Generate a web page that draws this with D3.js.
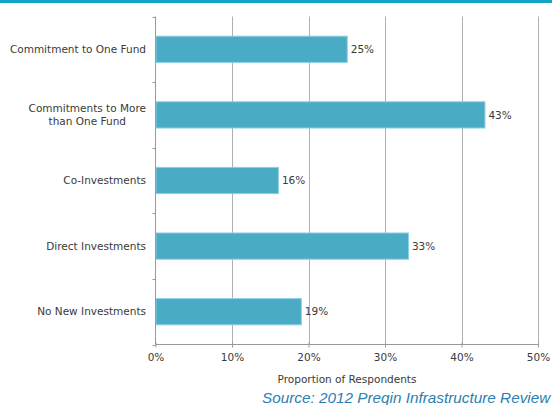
<!DOCTYPE html>
<html>
<head>
<meta charset="utf-8">
<script src="https://cdn.jsdelivr.net/npm/d3@7"></script>
<style>
  body { margin: 0; background: #fff; }
  text { font-family: "DejaVu Sans", sans-serif; }
  text.source { font-family: "Liberation Sans", Arial, sans-serif; font-style: italic; }
</style>
</head>
<body>
<script>
var categories = [
    ["Commitment to One Fund"],
    ["Commitments to More", "than One Fund"],
    ["Co-Investments"],
    ["Direct Investments"],
    ["No New Investments"]
];
var values = [25, 43, 16, 33, 19];
var tickValues = [0, 10, 20, 30, 40, 50];

var width = 552,
    height = 405;

var margin = { top: 16.5, right: 14, bottom: 60.5, left: 155.5 };
var fontSize = 10.5;
var textColor = "#3a3a3a";

var svg = d3.select("body").append("svg")
    .attr("width", width)
    .attr("height", height);

// top rule
svg.append("rect")
    .attr("x", 0).attr("y", 0)
    .attr("width", width).attr("height", 3)
    .attr("fill", "#14a3c4");

var x = d3.scaleLinear()
    .domain([0, 50])
    .range([margin.left, width - margin.right]);

var y = d3.scaleBand()
    .domain(d3.range(categories.length))
    .range([margin.top, height - margin.bottom])
    .paddingInner(0.6)
    .paddingOuter(0.3);

var plotBottom = height - margin.bottom;

// gridlines
svg.append("g").selectAll("line")
    .data(tickValues.slice(1))
    .enter().append("line")
    .attr("x1", function (d) { return Math.round(x(d)) + 0.5; })
    .attr("x2", function (d) { return Math.round(x(d)) + 0.5; })
    .attr("y1", margin.top)
    .attr("y2", plotBottom)
    .attr("stroke", "#b0b0b0")
    .attr("stroke-width", 1);

// bars
svg.append("g").selectAll("rect")
    .data(values)
    .enter().append("rect")
    .attr("x", x(0) + 0.5)
    .attr("y", function (d, i) { return y(i); })
    .attr("width", function (d) { return x(d) - x(0); })
    .attr("height", y.bandwidth())
    .attr("fill", "#4aabc5")
    .attr("stroke", "#8dd0e2")
    .attr("stroke-width", 1);

// value labels
svg.append("g").selectAll("text")
    .data(values)
    .enter().append("text")
    .attr("x", function (d) { return x(d) + 4; })
    .attr("y", function (d, i) { return y(i) + y.bandwidth() / 2; })
    .attr("dy", "0.35em")
    .attr("font-size", fontSize)
    .attr("fill", textColor)
    .text(function (d) { return d + "%"; });

// x axis
var xAxis = svg.append("g")
    .attr("transform", "translate(0," + plotBottom + ")")
    .call(d3.axisBottom(x)
        .tickValues(tickValues)
        .tickFormat(function (d) { return d + "%"; })
        .tickSize(4)
        .tickPadding(5));
xAxis.select(".domain").attr("stroke", "#999").attr("d", "M" + x(0) + ",0H" + x(50));
xAxis.selectAll(".tick line").attr("stroke", "#999").attr("y1", -2).attr("y2", 3);
xAxis.selectAll(".tick text")
    .attr("font-size", fontSize)
    .attr("fill", textColor);

// y axis line and separator ticks
var step = y.step();
var sepData = d3.range(categories.length + 1).map(function (i) {
    return margin.top + i * step;
});
var yAxisG = svg.append("g");
yAxisG.append("line")
    .attr("x1", x(0)).attr("x2", x(0))
    .attr("y1", margin.top).attr("y2", plotBottom)
    .attr("stroke", "#999");
yAxisG.selectAll("line.sep")
    .data(sepData)
    .enter().append("line")
    .attr("class", "sep")
    .attr("x1", x(0) - 3).attr("x2", x(0))
    .attr("y1", function (d) { return Math.round(d) + 0.5; })
    .attr("y2", function (d) { return Math.round(d) + 0.5; })
    .attr("stroke", "#999");

// category labels: block right aligned at x=146, lines centred in block
var labelRight = 146;
var catText = svg.append("g").selectAll("text")
    .data(categories)
    .enter().append("text")
    .attr("font-size", fontSize)
    .attr("fill", textColor)
    .attr("y", function (d, i) { return y(i) + y.bandwidth() / 2; });

catText.each(function (d) {
    var t = d3.select(this);
    var n = d.length;
    var spans = d.map(function (line, k) {
        return t.append("tspan")
            .attr("dy", k === 0 ? (0.35 - (n - 1) * 0.6) + "em" : "1.2em")
            .text(line);
    });
    var widths = spans.map(function (s) { return s.node().getComputedTextLength(); });
    var maxW = d3.max(widths);
    spans.forEach(function (s, k) {
        s.attr("x", labelRight - maxW / 2 - widths[k] / 2);
    });
});

// axis title
svg.append("text")
    .attr("x", 347)
    .attr("y", 383)
    .attr("text-anchor", "middle")
    .attr("font-size", fontSize)
    .attr("fill", textColor)
    .text("Proportion of Respondents");

// source
svg.append("text")
    .attr("class", "source")
    .attr("x", 262)
    .attr("y", 403)
    .attr("font-size", 15.3)
    .attr("fill", "#2a7fb0")
    .text("Source: 2012 Preqin Infrastructure Review");
</script>
</body>
</html>
